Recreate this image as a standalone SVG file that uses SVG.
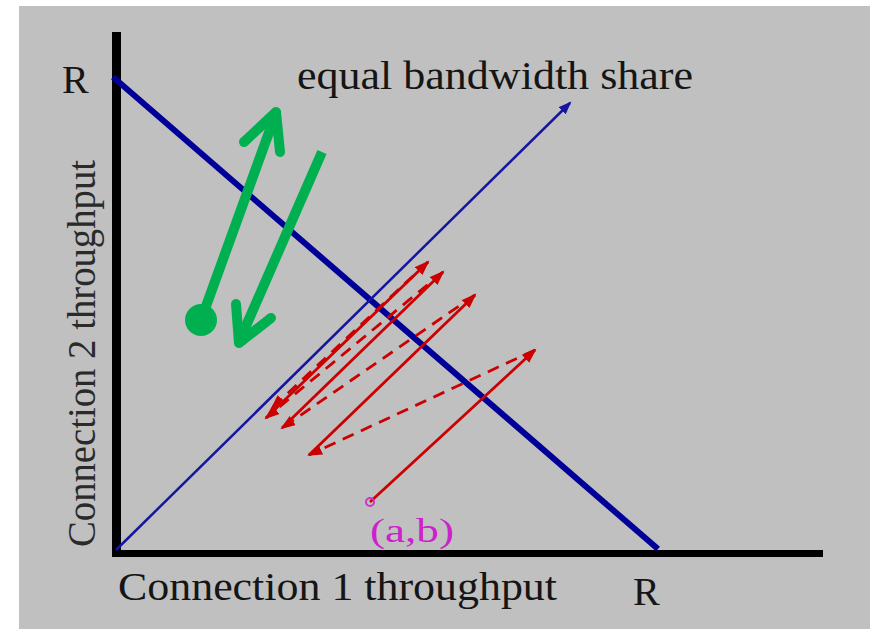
<svg xmlns="http://www.w3.org/2000/svg" width="870" height="629" viewBox="0 0 870 629">
  <style>
    .lbl { font-family: "Liberation Serif", "Times New Roman", serif; fill: #151515; }
    .red { stroke: #cc0000; stroke-width: 2.8; fill: none; }
    .redd { stroke: #cc0000; stroke-width: 2.8; fill: none; stroke-dasharray: 12 8; }
    .green { stroke: #00b050; stroke-width: 10; fill: none; stroke-linecap: round; stroke-linejoin: round; }
  </style>
  <defs>
    <marker id="redHead" markerUnits="userSpaceOnUse" markerWidth="16" markerHeight="12" refX="13" refY="5.5" orient="auto">
      <path d="M0,0 L15,5.5 L0,11 z" fill="#cc0000"/>
    </marker>
    <marker id="blueHead" markerUnits="userSpaceOnUse" markerWidth="14" markerHeight="12" refX="11" refY="5" orient="auto">
      <path d="M0,0 L13,5 L0,10 z" fill="#1515a0"/>
    </marker>
  </defs>
  <rect width="870" height="629" fill="#ffffff"/>
  <rect x="19" y="6" width="851" height="623" fill="#c0c0c0"/>

  <g id="axes">
    <line x1="116.5" y1="32" x2="116.5" y2="557" stroke="#000" stroke-width="9"/>
    <line x1="112" y1="553.5" x2="823" y2="553.5" stroke="#000" stroke-width="7"/>
  </g>

  <g id="full-utilization-line">
    <line x1="113" y1="77" x2="658" y2="549" stroke="#000099" stroke-width="6"/>
  </g>

  <g id="equal-share-line">
    <line x1="116" y1="550" x2="570" y2="103" stroke="#1515a0" stroke-width="2.5" marker-end="url(#blueHead)"/>
  </g>

  <g id="green-arrows">
    <circle cx="201" cy="320" r="16" fill="#00b050"/>
    <line class="green" x1="201" y1="320" x2="276" y2="113"/>
    <path class="green" d="M244,142 L276,112 L280,152"/>
    <line class="green" x1="322" y1="152" x2="239" y2="342" style="stroke-linecap:butt"/>
    <path class="green" d="M236,304 L239,343 L271,318"/>
  </g>

  <g id="connectors">
    <line class="red" x1="370" y1="502" x2="535" y2="350" marker-end="url(#redHead)"/>
    <line class="redd" x1="535" y1="350" x2="309" y2="455" marker-end="url(#redHead)"/>
    <line class="red" x1="309" y1="455" x2="475" y2="295" marker-end="url(#redHead)"/>
    <line class="redd" x1="475" y1="295" x2="282" y2="428" marker-end="url(#redHead)"/>
    <line class="red" x1="282" y1="428" x2="443" y2="272" marker-end="url(#redHead)"/>
    <line class="redd" x1="443" y1="272" x2="266" y2="418" marker-end="url(#redHead)"/>
    <line class="red" x1="266" y1="418" x2="428" y2="262" marker-end="url(#redHead)"/>
    <line class="redd" x1="428" y1="262" x2="272" y2="408" marker-end="url(#redHead)"/>
  </g>

  <g id="start-point">
    <circle cx="370" cy="502" r="4" fill="none" stroke="#cc33cc" stroke-width="2"/>
    <text x="370" y="542" font-family="Liberation Serif, serif" font-size="34" fill="#cc22cc" textLength="84" lengthAdjust="spacingAndGlyphs">(a,b)</text>
  </g>

  <g id="labels">
    <text class="lbl" x="62" y="93" font-size="40">R</text>
    <text class="lbl" x="633" y="605" font-size="40">R</text>
    <text class="lbl" x="297" y="89" font-size="40" textLength="396" lengthAdjust="spacingAndGlyphs">equal bandwidth share</text>
    <text class="lbl" x="118" y="600" font-size="40" textLength="439" lengthAdjust="spacingAndGlyphs">Connection 1 throughput</text>
    <text class="lbl" x="95" y="547" font-size="40" textLength="387" lengthAdjust="spacingAndGlyphs" transform="rotate(-90 95 547)" style="fill:#2a2a2a">Connection 2 throughput</text>
  </g>
</svg>
